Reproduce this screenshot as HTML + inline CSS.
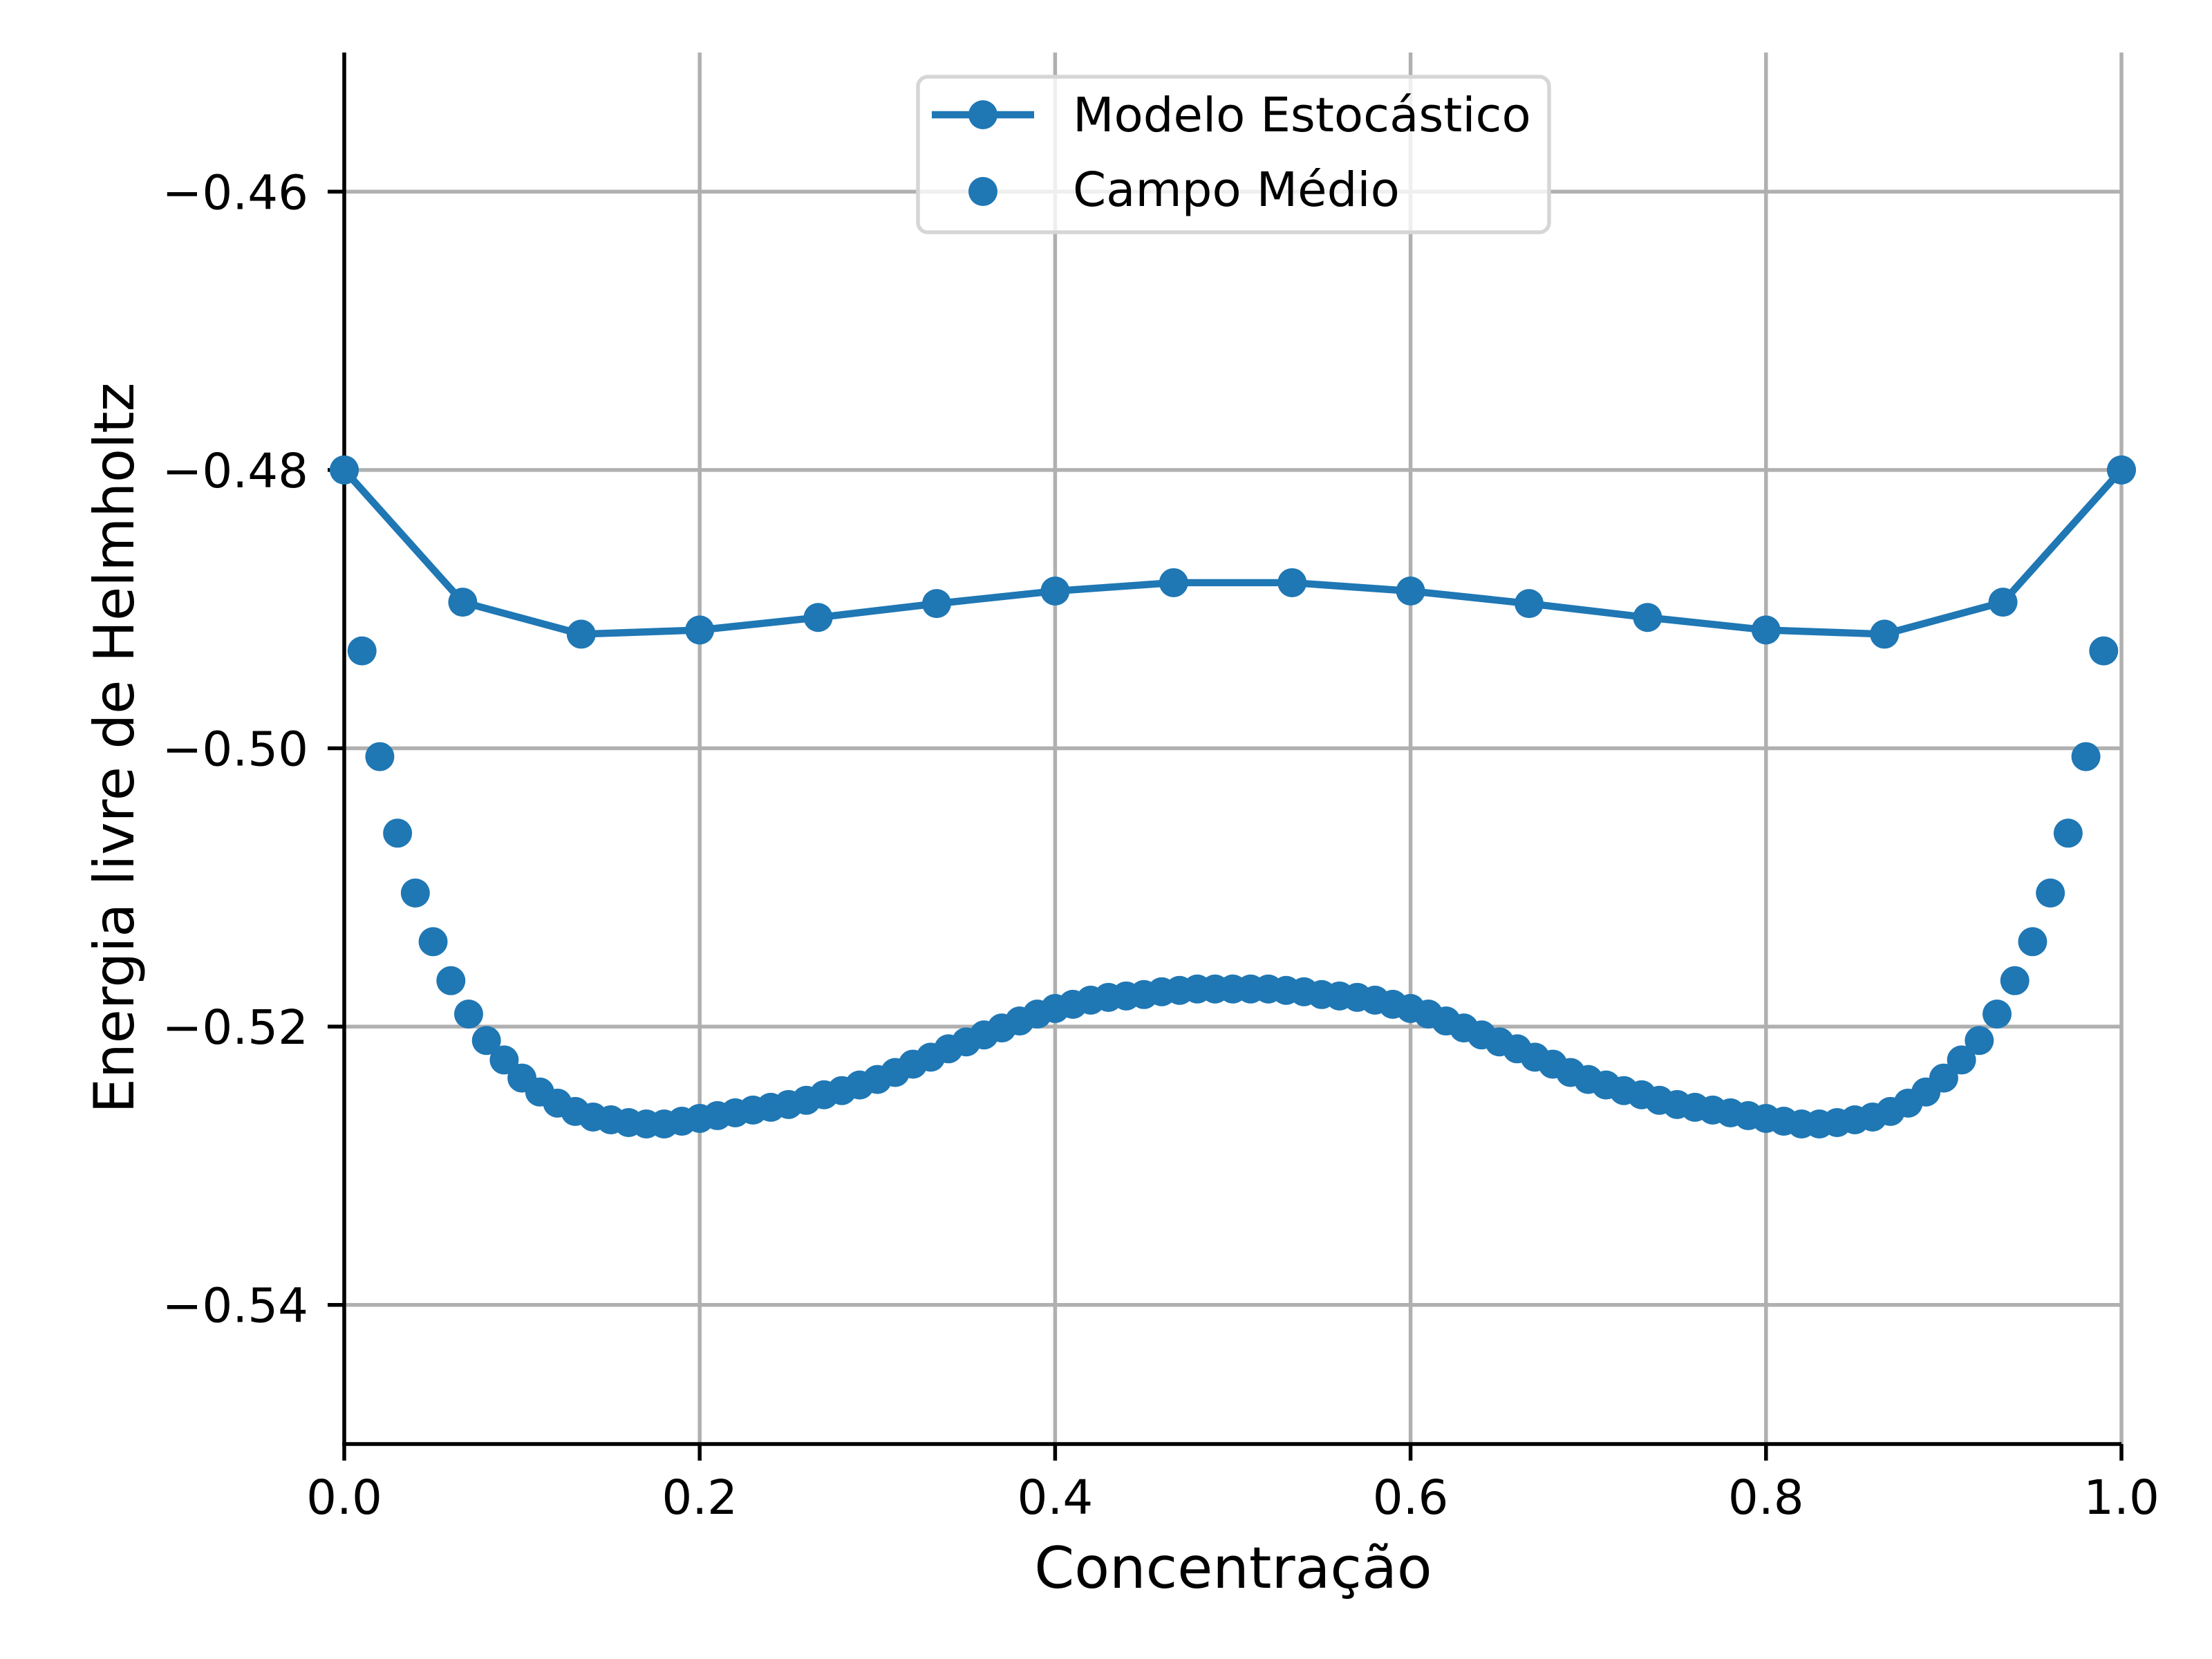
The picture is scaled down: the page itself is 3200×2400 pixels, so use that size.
<!DOCTYPE html>
<html><head><meta charset="utf-8"><style>
html,body{margin:0;padding:0;background:#fff}
svg{display:block}
text{font-family:"DejaVu Sans","Liberation Sans",sans-serif;fill:#000}
</style></head><body>
<svg id="chart" width="3200" height="2400" viewBox="0 0 3200 2400" xmlns="http://www.w3.org/2000/svg">
<rect width="3200" height="2400" fill="#fff"/>
<g id="grid"></g>
<g id="axes"></g>
<g id="series"></g>
<text x="193" y="1082" font-size="80" text-anchor="middle" transform="rotate(-90 193 1082)">Energia livre de Helmholtz</text>
<text x="1784" y="2297" font-size="83" text-anchor="middle">Concentração</text>
<g>
<rect x="1328" y="111" width="913" height="225" rx="14" fill="#fff" fill-opacity="0.8" stroke="#d6d6d6" stroke-width="5.5"/>
<line x1="1348" y1="166" x2="1496" y2="166" stroke="#1f77b4" stroke-width="10.4"/>
<circle cx="1422" cy="166" r="21" fill="#1f77b4"/>
<text x="1552" y="190" font-size="69">Modelo Estocástico</text>
<circle cx="1422" cy="277" r="21" fill="#1f77b4"/>
<text x="1552" y="298" font-size="69">Campo Médio</text>
</g>
</svg>
<script>
const xTicks=[0,0.2,0.4,0.6,0.8,1.0];
const xTickLabels=["0.0","0.2","0.4","0.6","0.8","1.0"];
const yTicks=[-0.54,-0.52,-0.50,-0.48,-0.46];
const yTickLabels=["\u22120.54","\u22120.52","\u22120.50","\u22120.48","\u22120.46"];
const modeloX=[0,1/15,2/15,3/15,4/15,5/15,6/15,7/15,8/15,9/15,10/15,11/15,12/15,13/15,14/15,1];
const modeloY=[-0.4800,-0.4895,-0.4918,-0.4915,-0.4906,-0.4896,-0.4887,-0.4881,-0.4881,-0.4887,-0.4896,-0.4906,-0.4915,-0.4918,-0.4895,-0.4800];
const campoX=[0,0.01,0.02,0.03,0.04,0.05,0.06,0.07,0.08,0.09,0.10,0.11,0.12,0.13,0.14,0.15,0.16,0.17,0.18,0.19,0.20,0.21,0.22,0.23,0.24,0.25,0.26,0.27,0.28,0.29,0.30,0.31,0.32,0.33,0.34,0.35,0.36,0.37,0.38,0.39,0.40,0.41,0.42,0.43,0.44,0.45,0.46,0.47,0.48,0.49,0.50,0.51,0.52,0.53,0.54,0.55,0.56,0.57,0.58,0.59,0.60,0.61,0.62,0.63,0.64,0.65,0.66,0.67,0.68,0.69,0.70,0.71,0.72,0.73,0.74,0.75,0.76,0.77,0.78,0.79,0.80,0.81,0.82,0.83,0.84,0.85,0.86,0.87,0.88,0.89,0.90,0.91,0.92,0.93,0.94,0.95,0.96,0.97,0.98,0.99,1.00];
const campoY=[-0.4800,-0.4930,-0.5006,-0.5061,-0.5104,-0.5139,-0.5167,-0.5191,-0.5210,-0.5224,-0.5237,-0.5247,-0.5255,-0.5261,-0.5265,-0.5267,-0.5269,-0.5270,-0.5270,-0.5268,-0.5266,-0.5264,-0.5262,-0.5260,-0.5258,-0.5256,-0.5253,-0.5249,-0.5246,-0.5242,-0.5238,-0.5233,-0.5227,-0.5222,-0.5216,-0.5211,-0.5206,-0.5201,-0.5196,-0.5191,-0.5187,-0.5184,-0.5181,-0.5179,-0.5178,-0.5177,-0.5175,-0.5174,-0.5173,-0.5173,-0.5173,
-0.5173,-0.5173,-0.5174,-0.5175,-0.5177,-0.5178,-0.5179,-0.5181,-0.5184,-0.5187,-0.5191,-0.5196,-0.5201,-0.5206,-0.5211,-0.5216,-0.5222,-0.5227,-0.5233,-0.5238,-0.5242,-0.5246,-0.5249,-0.5253,-0.5256,-0.5258,-0.5260,-0.5262,-0.5264,-0.5266,-0.5268,-0.5270,-0.5270,-0.5269,-0.5267,-0.5265,-0.5261,-0.5255,-0.5247,-0.5237,-0.5224,-0.5210,-0.5191,-0.5167,-0.5139,-0.5104,-0.5061,-0.5006,-0.4930,-0.4800];

const L=498,R=3069,T=76,B=2089,Y0=-0.55,Y1=-0.45;
function sx(v){return L+(v-0)/(1-0)*(R-L);}
function sy(v){return B-(v-Y0)/(Y1-Y0)*(B-T);}
const NS="http://www.w3.org/2000/svg";
function mk(tag,attrs,parent){const e=document.createElementNS(NS,tag);for(const k in attrs)e.setAttribute(k,attrs[k]);parent.appendChild(e);return e;}
const grid=document.getElementById('grid'),axes=document.getElementById('axes'),series=document.getElementById('series');
xTicks.forEach((v,i)=>{
  const g=mk('line',{x1:sx(v),x2:sx(v),y1:T,y2:B,stroke:'#b0b0b0','stroke-width':5.5},grid);
  
  
  const t=mk('line',{x1:sx(v),x2:sx(v),y1:B,y2:B+24,stroke:'#000','stroke-width':5.5},axes);
  
  
  const tx=mk('text',{x:sx(v),y:2190,'font-size':69,'text-anchor':'middle'},axes);
  tx.textContent=xTickLabels[i];
  
  
});
yTicks.forEach((v,i)=>{
  const g=mk('line',{x1:L,x2:R,y1:sy(v),y2:sy(v),stroke:'#b0b0b0','stroke-width':5.5},grid);
  
  
  const t=mk('line',{x1:L-24,x2:L,y1:sy(v),y2:sy(v),stroke:'#000','stroke-width':5.5},axes);
  
  
  const tx=mk('text',{x:446,y:sy(v)+25,'font-size':69,'text-anchor':'end'},axes);
  tx.textContent=yTickLabels[i];
  
  
});
const ls=mk('line',{x1:L,x2:L,y1:T,y2:B+2.75,stroke:'#000','stroke-width':5.5},axes);


const bs=mk('line',{x1:L-2.75,x2:R,y1:B,y2:B,stroke:'#000','stroke-width':5.5},axes);



const pts=modeloX.map((x,i)=>sx(x)+','+sy(modeloY[i])).join(' ');
const pl=mk('polyline',{points:pts,fill:'none',stroke:'#1f77b4','stroke-width':10.4,'stroke-linejoin':'round'},series);


modeloX.forEach((x,i)=>{
  const c=mk('circle',{cx:sx(x),cy:sy(modeloY[i]),r:21,fill:'#1f77b4'},series);
  
  
});
campoX.forEach((x,i)=>{
  const c=mk('circle',{cx:sx(x),cy:sy(campoY[i]),r:21,fill:'#1f77b4'},series);
  
  
});
</script>
</body></html>
